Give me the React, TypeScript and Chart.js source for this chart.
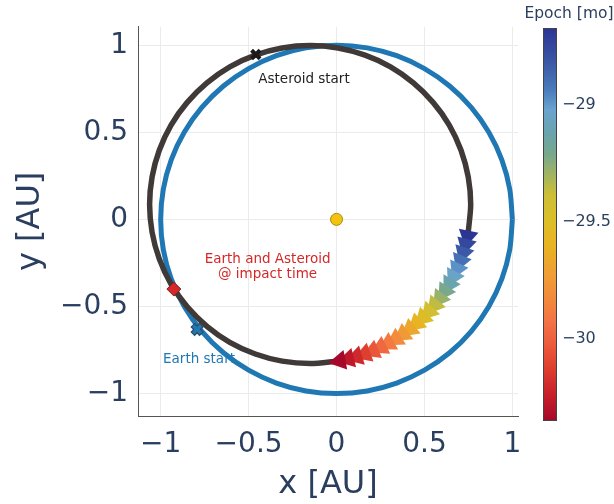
import React, { useEffect, useRef } from 'react';
import { Chart, registerables } from 'chart.js';

Chart.register(...registerables);

// ---------- data ----------
const earthOrbitX = [1, 0.985, 0.94, 0.866, 0.766, 0.643, 0.5, 0.342, 0.174, 0, -0.174, -0.342, -0.5, -0.643, -0.766, -0.866, -0.94, -0.985, -1, -0.985, -0.94, -0.866, -0.766, -0.643, -0.5, -0.342, -0.174, 0, 0.174, 0.342, 0.5, 0.643, 0.766, 0.866, 0.94, 0.985, 1];
const earthOrbitY = [0, 0.174, 0.342, 0.5, 0.643, 0.766, 0.866, 0.94, 0.985, 1, 0.985, 0.94, 0.866, 0.766, 0.643, 0.5, 0.342, 0.174, 0, -0.174, -0.342, -0.5, -0.643, -0.766, -0.866, -0.94, -0.985, -1, -0.985, -0.94, -0.866, -0.766, -0.643, -0.5, -0.342, -0.174, 0];

const asteroidOrbitX = [0.009, -0.15, -0.309, -0.462, -0.607, -0.737, -0.849, -0.941, -1.008, -1.049, -1.063, -1.049, -1.008, -0.941, -0.849, -0.737, -0.607, -0.462, -0.309, -0.15, 0.009, 0.162, 0.307, 0.437, 0.549, 0.641, 0.708, 0.749, 0.763, 0.749];
const asteroidOrbitY = [-0.814, -0.828, -0.814, -0.773, -0.706, -0.614, -0.502, -0.372, -0.227, -0.073, 0.085, 0.243, 0.397, 0.542, 0.672, 0.784, 0.876, 0.943, 0.984, 0.998, 0.984, 0.943, 0.876, 0.784, 0.672, 0.542, 0.397, 0.243, 0.085, -0.073];

const arrowX = [0.745, 0.734, 0.72, 0.704, 0.685, 0.664, 0.641, 0.615, 0.587, 0.557, 0.525, 0.491, 0.454, 0.417, 0.377, 0.337, 0.294, 0.251, 0.206, 0.16, 0.113, 0.066, 0.018];
const arrowY = [-0.097, -0.145, -0.192, -0.239, -0.284, -0.328, -0.372, -0.414, -0.454, -0.493, -0.53, -0.566, -0.599, -0.631, -0.66, -0.688, -0.713, -0.735, -0.756, -0.774, -0.789, -0.802, -0.812];
const arrowEpoch = [-28.67, -28.75, -28.82, -28.9, -28.98, -29.05, -29.13, -29.21, -29.28, -29.36, -29.43, -29.51, -29.59, -29.66, -29.74, -29.82, -29.89, -29.97, -30.04, -30.12, -30.2, -30.27, -30.35];
const arrowAngle = [191.5, 194.6, 197.7, 200.8, 203.9, 206.9, 210, 213.1, 216.2, 219.3, 222.4, 225.5, 228.5, 231.6, 234.7, 237.8, 240.9, 244, 247.1, 250.1, 253.2, 256.3, 259.4];

const sunX = [0];
const sunY = [0];
const asteroidStartX = [-0.459];
const asteroidStartY = [0.947];
const earthStartX = [-0.793];
const earthStartY = [-0.632];
const impactX = [-0.925];
const impactY = [-0.4];

const xTicks = [-1, -0.5, 0, 0.5, 1];
const yTicks = [-1, -0.5, 0, 0.5, 1];
const epochTicks = [-29, -29.5, -30];
const epochMin = -30.35;
const epochMax = -28.67;

const annText = [['Asteroid start'], ['Earth and Asteroid', '@ impact time'], ['Earth start']];
const annX = [-0.185, -0.392, -0.782];
const annY = [0.804, -0.272, -0.806];
const annColor = ['#222222', '#d62728', '#1f77b4'];

// ---------- style ----------
const cbStops = [0, 0.065, 0.129, 0.193, 0.256, 0.307, 0.371, 0.447, 0.506, 0.575, 0.626, 0.677, 0.728, 0.792, 0.842, 0.918, 1];
const cbColors = ['#a5082a', '#c61f2a', '#dd3b2d', '#ec5a3c', '#f37444', '#f2883c', '#f09d36', '#e9b322', '#dcbe28', '#cdbf35', '#a2b560', '#78a88c', '#6ba4ab', '#6aa3cf', '#4a7cbb', '#3a55a5', '#2c3594'];

const FONT = "'DejaVu Sans', Verdana, sans-serif";
const TXT = '#2a3f5f';

function hexToRgb(h: string) {
  const n = parseInt(h.slice(1), 16);
  return [(n >> 16) & 255, (n >> 8) & 255, n & 255];
}
function epochColor(v: number) {
  const t = Math.min(1, Math.max(0, (v - epochMin) / (epochMax - epochMin)));
  for (let i = 0; i < cbStops.length - 1; i++) {
    if (t <= cbStops[i + 1]) {
      const f = (t - cbStops[i]) / (cbStops[i + 1] - cbStops[i]);
      const a = hexToRgb(cbColors[i]);
      const b = hexToRgb(cbColors[i + 1]);
      const c = a.map((av, k) => Math.round(av + (b[k] - av) * f));
      return `rgb(${c[0]},${c[1]},${c[2]})`;
    }
  }
  return cbColors[cbColors.length - 1];
}

const pts = (xs: number[], ys: number[]) => xs.map((x, i) => ({ x, y: ys[i] }));
const fmt = (v: number) => String(v).replace('-', '\u2212');

const CB = { left: 543, right: 557, top: 28, bottom: 421 };

const overlayPlugin = {
  id: 'overlay',
  afterDraw(chart: any) {
    const ctx = chart.ctx;
    const xs = chart.scales.x;
    const ys = chart.scales.y;
    const area = chart.chartArea;
    ctx.save();
    // annotations
    ctx.font = `13.5px ${FONT}`;
    ctx.textAlign = 'center';
    ctx.textBaseline = 'middle';
    annText.forEach((lines, i) => {
      const px = xs.getPixelForValue(annX[i]);
      const py = ys.getPixelForValue(annY[i]);
      const lh = 15.5;
      ctx.fillStyle = annColor[i];
      lines.forEach((l, j) => {
        ctx.fillText(l, px, py + (j - (lines.length - 1) / 2) * lh);
      });
    });
    // axis titles
    ctx.fillStyle = TXT;
    ctx.font = `32px ${FONT}`;
    ctx.textBaseline = 'alphabetic';
    ctx.fillText('x [AU]', (area.left + area.right) / 2, 493);
    ctx.save();
    ctx.translate(39, (area.top + area.bottom) / 2);
    ctx.rotate(-Math.PI / 2);
    ctx.fillText('y [AU]', 0, 0);
    ctx.restore();
    // colorbar
    const g = ctx.createLinearGradient(0, CB.bottom, 0, CB.top);
    cbStops.forEach((s, i) => g.addColorStop(s, cbColors[i]));
    ctx.fillStyle = g;
    ctx.fillRect(CB.left, CB.top, CB.right - CB.left, CB.bottom - CB.top);
    ctx.strokeStyle = '#444';
    ctx.lineWidth = 1;
    ctx.strokeRect(CB.left + 0.5, CB.top + 0.5, CB.right - CB.left - 1, CB.bottom - CB.top - 1);
    ctx.fillStyle = TXT;
    ctx.font = `16px ${FONT}`;
    ctx.textAlign = 'left';
    ctx.textBaseline = 'middle';
    epochTicks.forEach((v) => {
      const py = CB.bottom - ((v - epochMin) / (epochMax - epochMin)) * (CB.bottom - CB.top);
      ctx.fillText(fmt(v), 562, py);
    });
    ctx.font = `15.5px ${FONT}`;
    ctx.textAlign = 'center';
    ctx.fillText('Epoch [mo]', 569, 14);
    ctx.restore();
  },
};

export default function App() {
  const ref = useRef<HTMLCanvasElement>(null);
  useEffect(() => {
    if (!ref.current) return;
    const chart = new Chart(ref.current, {
      type: 'scatter',
      data: {
        datasets: [
          {
            label: 'Earth orbit',
            data: pts(earthOrbitX, earthOrbitY),
            showLine: true,
            borderColor: '#1f77b4',
            borderWidth: 5,
            pointRadius: 0,
            tension: 0.3,
            order: 10,
          },
          {
            label: 'Asteroid orbit',
            data: pts(asteroidOrbitX, asteroidOrbitY),
            showLine: true,
            borderColor: '#3f3937',
            borderWidth: 5.5,
            pointRadius: 0,
            tension: 0.3,
            order: 9,
          },
          {
            label: 'Asteroid path',
            data: pts(arrowX, arrowY),
            pointStyle: 'triangle',
            pointRadius: 11.5,
            pointRotation: arrowAngle,
            pointBackgroundColor: arrowEpoch.map(epochColor),
            pointBorderWidth: 0,
            borderWidth: 0,
            order: 6,
          },
          {
            label: 'Sun',
            data: pts(sunX, sunY),
            pointStyle: 'circle',
            pointRadius: 6,
            pointBackgroundColor: '#f2c40f',
            pointBorderColor: '#a88a10',
            pointBorderWidth: 1,
            order: 5,
          },
          {
            label: 'Earth start outline',
            data: pts(earthStartX, earthStartY),
            pointStyle: 'crossRot',
            pointRadius: 6.5,
            pointBorderColor: '#2d4b63',
            pointBorderWidth: 6,
            order: 4,
          },
          {
            label: 'Earth start',
            data: pts(earthStartX, earthStartY),
            pointStyle: 'crossRot',
            pointRadius: 5.5,
            pointBorderColor: '#1f77b4',
            pointBorderWidth: 3.5,
            order: 3,
          },
          {
            label: 'Asteroid start',
            data: pts(asteroidStartX, asteroidStartY),
            pointStyle: 'crossRot',
            pointRadius: 6,
            pointBorderColor: '#1a1a1a',
            pointBorderWidth: 4,
            order: 2,
          },
          {
            label: 'Impact',
            data: pts(impactX, impactY),
            pointStyle: 'rectRot',
            pointRadius: 7,
            pointBackgroundColor: '#d62728',
            pointBorderColor: '#7a2020',
            pointBorderWidth: 1,
            order: 1,
          },
        ],
      },
      options: {
        animation: false,
        responsive: false,
        events: [],
        layout: { padding: { top: 23, right: 96, left: 0, bottom: 0 } },
        plugins: { legend: { display: false }, tooltip: { enabled: false } },
        scales: {
          x: {
            type: 'linear',
            position: 'bottom',
            min: -1.129,
            max: 1.032,
            afterBuildTicks: (s: any) => {
              s.ticks = xTicks.map((v) => ({ value: v }));
            },
            afterFit: (s: any) => {
              s.height = 88;
            },
            grid: { color: '#ebebeb', lineWidth: 1, drawTicks: false },
            border: { display: true, color: '#555', width: 1 },
            ticks: {
              padding: 12,
              maxRotation: 0,
              autoSkip: false,
              color: TXT,
              font: { family: FONT, size: 28 },
              callback: (v: any) => fmt(v),
            },
          },
          y: {
            type: 'linear',
            min: -1.129,
            max: 1.106,
            afterBuildTicks: (s: any) => {
              s.ticks = yTicks.map((v) => ({ value: v }));
            },
            afterFit: (s: any) => {
              s.width = 138;
            },
            grid: { color: '#ebebeb', lineWidth: 1, drawTicks: false },
            border: { display: true, color: '#555', width: 1 },
            ticks: {
              padding: 10,
              autoSkip: false,
              color: TXT,
              font: { family: FONT, size: 28 },
              callback: (v: any) => fmt(v),
            },
          },
        },
      },
      plugins: [overlayPlugin],
    } as any);
    return () => chart.destroy();
  }, []);
  return (
    <div style={{ position: 'absolute', left: 0, top: 0, width: 614, height: 504, background: '#fff' }}>
      <canvas ref={ref} width={614} height={504} style={{ width: 614, height: 504 }} />
    </div>
  );
}
